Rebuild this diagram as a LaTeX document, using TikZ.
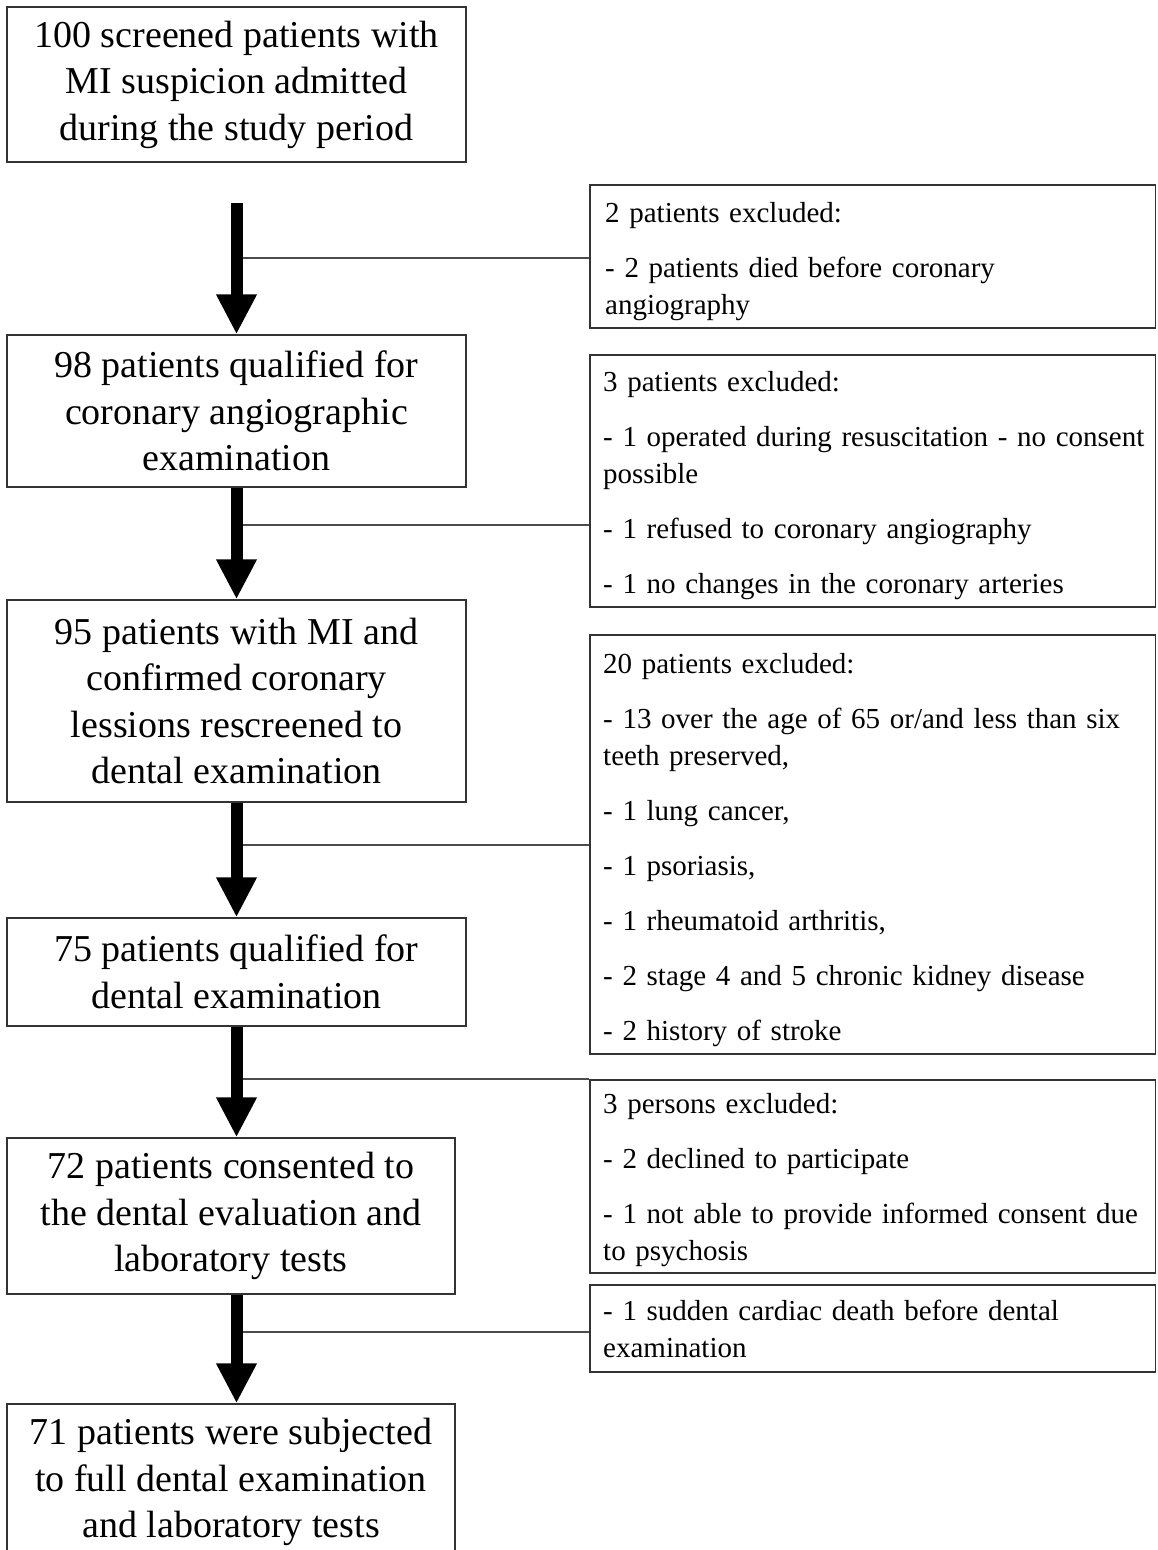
\documentclass[tikz,border=0pt]{standalone}
\usepackage{fontspec}
\setmainfont{Liberation Serif}
\usetikzlibrary{arrows.meta}
\tikzset{
  mainbox/.style={draw=black!80, line width=1.4pt, inner sep=0pt, align=center,
    font=\fontsize{38}{46.5}\selectfont},
  sidebox/.style={draw=black!80, line width=1.4pt, inner sep=0pt},
  sidetext/.style={anchor=west, inner sep=0pt, text width=620pt, align=left,
    font=\fontsize{29}{37}\selectfont},
  bigarrow/.style={line width=12pt, -{Triangle[width=38pt,length=40pt]}},
  branch/.style={draw=black!70, line width=1.3pt}
}
\begin{document}
\begin{tikzpicture}[x=1pt,y=-1pt]
\useasboundingbox (0,0) rectangle (1157,1550);
\clip (0,0) rectangle (1157,1550);
\fill[white] (0,0) rectangle (1157,1550);

% main boxes
\node[mainbox, minimum width=459pt, minimum height=155pt] (b1) at (236.5,84.5)
  {100 screened patients with\\MI suspicion admitted\\during the study period};
\node[mainbox, minimum width=459pt, minimum height=152pt] (b2) at (236.5,411)
  {98 patients qualified for\\coronary angiographic\\examination};
\node[mainbox, minimum width=459pt, minimum height=202pt] (b3) at (236.5,701)
  {95 patients with MI and\\confirmed coronary\\lessions rescreened to\\dental examination};
\node[mainbox, minimum width=459pt, minimum height=108pt] (b4) at (236.5,972)
  {75 patients qualified for\\dental examination};
\node[mainbox, minimum width=448pt, minimum height=156pt] (b5) at (231,1216)
  {72 patients consented to\\the dental evaluation and\\laboratory tests};
\node[mainbox, minimum width=448pt, minimum height=156pt] (b6) at (231,1482)
  {71 patients were subjected\\to full dental examination\\and laboratory tests};

% side boxes
\node[sidebox, minimum width=565.5pt, minimum height=143pt] (r1) at (872.75,256.5) {};
\node[sidebox, minimum width=565.5pt, minimum height=252pt] (r2) at (872.75,481) {};
\node[sidebox, minimum width=565.5pt, minimum height=419pt] (r3) at (872.75,844.5) {};
\node[sidebox, minimum width=565.5pt, minimum height=193pt] (r4) at (872.75,1176.5) {};
\node[sidebox, minimum width=565.5pt, minimum height=87pt] (r5) at (872.75,1328.5) {};

\node[sidetext] (t1) at (605,262)
  {2 patients excluded:\\[18pt]- 2 patients died before coronary\\angiography};
\node[sidetext] (t2) at (603,486)
  {3 patients excluded:\\[18pt]- 1 operated during resuscitation - no consent\\possible\\[18pt]- 1 refused to coronary angiography\\[18pt]- 1 no changes in the coronary arteries};
\node[sidetext] (t3) at (603,850)
  {20 patients excluded:\\[18pt]- 13 over the age of 65 or/and less than six\\teeth preserved,\\[18pt]- 1 lung cancer,\\[18pt]- 1 psoriasis,\\[18pt]- 1 rheumatoid arthritis,\\[18pt]- 2 stage 4 and 5 chronic kidney disease\\[18pt]- 2 history of stroke};
\node[sidetext] (t4) at (603,1180)
  {3 persons excluded:\\[18pt]- 2 declined to participate\\[18pt]- 1 not able to provide informed consent due\\to psychosis};
\node[sidetext] (t5) at (603,1329)
  {- 1 sudden cardiac death before dental\\examination};

% branch lines
\coordinate (j1) at (237,258);
\coordinate (j2) at (237,525);
\coordinate (j3) at (237,845);
\coordinate (j4) at (237,1079);
\coordinate (j5) at (237,1332);
\draw[branch] (j1) -- (j1 -| r1.west);
\draw[branch] (j2) -- (j2 -| r2.west);
\draw[branch] (j3) -- (j3 -| r3.west);
\draw[branch] (j4) -- (j4 -| r4.west);
\draw[branch] (j5) -- (j5 -| r5.west);

% arrows
\coordinate (a1) at ([yshift=-40pt]b1.south);
\draw[bigarrow] (a1) -- (b2.north);
\draw[bigarrow] (b2.south) -- (b3.north);
\draw[bigarrow] (b3.south) -- (b4.north);
\draw[bigarrow] (b4.south) -- (b5.north -| b4.south);
\draw[bigarrow] (b5.south -| b4.south) -- (b6.north -| b4.south);
\end{tikzpicture}
\end{document}
